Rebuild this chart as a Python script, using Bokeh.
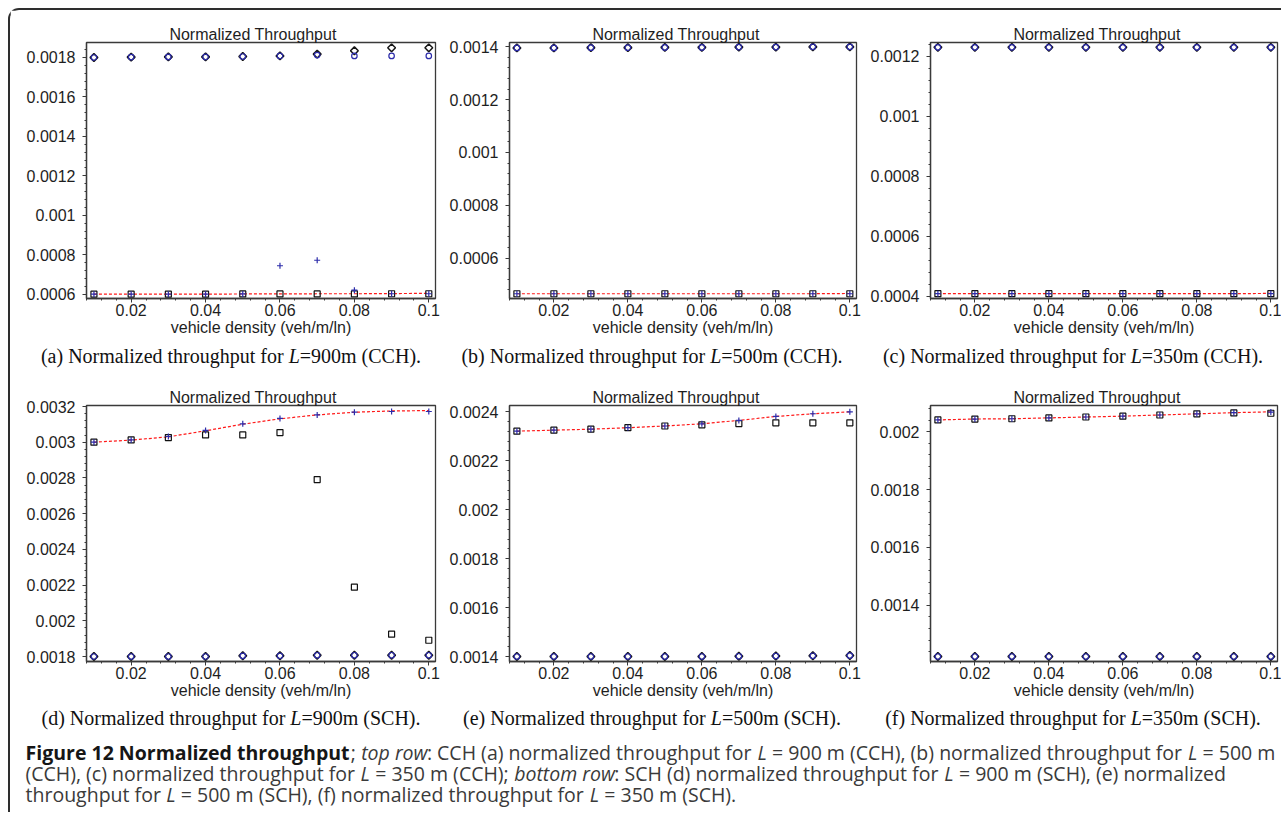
import numpy as np
from bokeh.plotting import figure
from bokeh.models import Range1d, FixedTicker, CustomJSTickFormatter
from bokeh.layouts import row, column
from bokeh.core.properties import value
from bokeh.embed import file_html
from bokeh.resources import INLINE

# ---------------- data ----------------
density = [0.01, 0.02, 0.03, 0.04, 0.05, 0.06, 0.07, 0.08, 0.09, 0.10]
x_ticks = [0.02, 0.04, 0.06, 0.08, 0.1]
x_tick_labels = ["0.02", "0.04", "0.06", "0.08", "0.1"]
x_range_lim = [0.0080, 0.1018]

# (a) L=900m CCH
a_range = [0.000578, 0.001876]
a_ticks = [0.0006, 0.0008, 0.0010, 0.0012, 0.0014, 0.0016, 0.0018]
a_labels = ["0.0006", "0.0008", "0.001", "0.0012", "0.0014", "0.0016", "0.0018"]
a_diamond = [0.001800, 0.001802, 0.001803, 0.001803, 0.001805, 0.001808, 0.001817, 0.001834, 0.001849, 0.001849]
a_circle = [0.001800, 0.001802, 0.001803, 0.001803, 0.001805, 0.001808, 0.001812, 0.001808, 0.001808, 0.001808]
a_plus = [0.000600, 0.000600, 0.000600, 0.000600, 0.000601, 0.000744, 0.000772, 0.000620, 0.000602, 0.000602]
a_square = [0.000600, 0.000600, 0.000600, 0.000600, 0.000601, 0.000601, 0.000601, 0.000601, 0.000602, 0.000602]
a_model = [0.000600, 0.000600, 0.000600, 0.000600, 0.000601, 0.000601, 0.000602, 0.000602, 0.000603, 0.000604]

# (b) L=500m CCH
b_range = [0.000447, 0.0014165]
b_ticks = [0.0006, 0.0008, 0.0010, 0.0012, 0.0014]
b_labels = ["0.0006", "0.0008", "0.001", "0.0012", "0.0014"]
b_diamond = [0.001396, 0.001396, 0.001397, 0.001397, 0.001398, 0.001398, 0.001399, 0.001399, 0.001400, 0.001400]
b_circle = [0.001396, 0.001396, 0.001397, 0.001397, 0.001398, 0.001398, 0.001399, 0.001399, 0.001400, 0.001400]
b_plus = [0.000465, 0.000465, 0.000465, 0.000465, 0.000465, 0.000465, 0.000465, 0.000465, 0.000465, 0.000465]
b_square = [0.000465, 0.000465, 0.000465, 0.000465, 0.000465, 0.000465, 0.000465, 0.000465, 0.000465, 0.000465]
b_model = [0.000465, 0.000465, 0.000465, 0.000465, 0.000465, 0.000465, 0.000465, 0.000465, 0.000465, 0.000466]

# (c) L=350m CCH
c_range = [0.000393, 0.001246]
c_ticks = [0.0004, 0.0006, 0.0008, 0.0010, 0.0012]
c_labels = ["0.0004", "0.0006", "0.0008", "0.001", "0.0012"]
c_diamond = [0.001230, 0.001230, 0.001230, 0.001230, 0.001230, 0.001230, 0.001230, 0.001230, 0.001230, 0.001230]
c_circle = [0.001230, 0.001230, 0.001230, 0.001230, 0.001230, 0.001230, 0.001230, 0.001230, 0.001230, 0.001230]
c_plus = [0.000409, 0.000409, 0.000409, 0.000409, 0.000409, 0.000409, 0.000409, 0.000409, 0.000409, 0.000409]
c_square = [0.000409, 0.000409, 0.000409, 0.000409, 0.000409, 0.000409, 0.000409, 0.000409, 0.000409, 0.000409]
c_model = [0.000409, 0.000409, 0.000409, 0.000409, 0.000409, 0.000409, 0.000409, 0.000409, 0.000409, 0.000410]

# (d) L=900m SCH
d_range = [0.001772, 0.0032056]
d_ticks = [0.0018, 0.0020, 0.0022, 0.0024, 0.0026, 0.0028, 0.0030, 0.0032]
d_labels = ["0.0018", "0.002", "0.0022", "0.0024", "0.0026", "0.0028", "0.003", "0.0032"]
d_diamond = [0.001800, 0.001800, 0.001800, 0.001800, 0.001804, 0.001804, 0.001807, 0.001807, 0.001807, 0.001807]
d_circle = [0.001800, 0.001800, 0.001800, 0.001800, 0.001804, 0.001804, 0.001807, 0.001807, 0.001807, 0.001807]
d_plus = [0.003000, 0.003013, 0.003032, 0.003066, 0.003103, 0.003133, 0.003153, 0.003168, 0.003172, 0.003172]
d_square = [0.003000, 0.003013, 0.003026, 0.003041, 0.003041, 0.003054, 0.002791, 0.002188, 0.001925, 0.001891]
d_model = [0.003000, 0.003012, 0.003030, 0.003064, 0.003101, 0.003131, 0.003153, 0.003168, 0.003175, 0.003177]

# (e) L=500m SCH
e_range = [0.0013796, 0.0024258]
e_ticks = [0.0014, 0.0016, 0.0018, 0.0020, 0.0022, 0.0024]
e_labels = ["0.0014", "0.0016", "0.0018", "0.002", "0.0022", "0.0024"]
e_diamond = [0.001400, 0.001400, 0.001400, 0.001400, 0.001400, 0.001400, 0.001401, 0.001402, 0.001403, 0.001404]
e_circle = [0.001400, 0.001400, 0.001400, 0.001400, 0.001400, 0.001400, 0.001401, 0.001402, 0.001403, 0.001404]
e_plus = [0.002321, 0.002325, 0.002329, 0.002335, 0.002342, 0.002351, 0.002365, 0.002381, 0.002392, 0.002400]
e_square = [0.002321, 0.002325, 0.002329, 0.002335, 0.002342, 0.002347, 0.002352, 0.002355, 0.002355, 0.002355]
e_model = [0.002321, 0.002325, 0.002329, 0.002335, 0.002342, 0.002351, 0.002365, 0.002381, 0.002392, 0.002400]

# (f) L=350m SCH
f_range = [0.0012057, 0.0020908]
f_ticks = [0.0014, 0.0016, 0.0018, 0.0020]
f_labels = ["0.0014", "0.0016", "0.0018", "0.002"]
f_diamond = [0.001223, 0.001223, 0.001223, 0.001223, 0.001223, 0.001223, 0.001223, 0.001223, 0.001223, 0.001223]
f_circle = [0.001223, 0.001223, 0.001223, 0.001223, 0.001223, 0.001223, 0.001223, 0.001223, 0.001223, 0.001223]
f_plus = [0.002041, 0.002044, 0.002045, 0.002048, 0.002051, 0.002054, 0.002058, 0.002062, 0.002066, 0.002068]
f_square = [0.002041, 0.002044, 0.002045, 0.002048, 0.002051, 0.002054, 0.002058, 0.002062, 0.002065, 0.002064]
f_model = [0.002041, 0.002044, 0.002045, 0.002048, 0.002051, 0.002054, 0.002058, 0.002062, 0.002066, 0.002069]

panel_title = "Normalized Throughput"
x_label = "vehicle density (veh/m/ln)"
sub_captions = [
    ("(a) Normalized throughput for ", "=900m (CCH)."),
    ("(b) Normalized throughput for ", "=500m (CCH)."),
    ("(c) Normalized throughput for ", "=350m (CCH)."),
    ("(d) Normalized throughput for ", "=900m (SCH)."),
    ("(e) Normalized throughput for ", "=500m (SCH)."),
    ("(f) Normalized throughput for ", "=350m (SCH)."),
]
fig_caption = [
    [("Figure 12 Normalized throughput", "b"), ("; ", "n"), ("top row", "i"),
     (": CCH (a) normalized throughput for ", "n"), ("L", "i"),
     (" = 900 m (CCH), (b) normalized throughput for ", "n"), ("L", "i"), (" = 500 m", "n")],
    [("(CCH), (c) normalized throughput for ", "n"), ("L", "i"), (" = 350 m (CCH); ", "n"),
     ("bottom row", "i"), (": SCH (d) normalized throughput for ", "n"), ("L", "i"),
     (" = 900 m (SCH), (e) normalized", "n")],
    [("throughput for ", "n"), ("L", "i"), (" = 500 m (SCH), (f) normalized throughput for ", "n"),
     ("L", "i"), (" = 350 m (SCH).", "n")],
]

# ---------------- styling / layout ----------------
AX = "#3a3a3a"
BLUE = "#2c2caa"
SANS = "Liberation Sans"
SERIF = "Liberation Serif"
CAPF = "Open Sans"
FRAME_W, FRAME_H, BOTTOM = 349, 256, 46

ARIAL = {'N': 722, 'o': 556, 'r': 333, 'm': 833, 'a': 556, 'l': 222, 'i': 222, 'z': 500, 'e': 556,
         'd': 556, ' ': 278, 'T': 611, 'h': 556, 'u': 556, 'g': 556, 'p': 556, 't': 278}
TIMES = {' ': 250, '(': 333, ')': 333, '.': 250, '=': 564, 'a': 444, 'b': 500, 'c': 444, 'd': 500,
         'e': 444, 'f': 333, 'g': 500, 'h': 500, 'i': 278, 'l': 278, 'm': 778, 'n': 500, 'o': 500,
         'p': 500, 'r': 333, 's': 389, 't': 278, 'u': 500, 'z': 444, 'N': 722, 'C': 667, 'H': 722,
         'S': 556, 'L': 556}
for dgt in "0123456789":
    TIMES[dgt] = 500
OS_N = {' ': 532, ',': 497, '.': 545, ':': 545, ';': 545, '(': 608, ')': 608, '=': 1171, 'a': 1139,
        'b': 1255, 'c': 975, 'd': 1255, 'e': 1149, 'f': 694, 'g': 1122, 'h': 1257, 'i': 518,
        'l': 518, 'm': 1905, 'n': 1257, 'o': 1237, 'p': 1255, 'r': 836, 's': 977, 't': 723,
        'u': 1257, 'w': 1610, 'z': 979, 'C': 1292, 'H': 1511, 'S': 1124, 'L': 1073}
OS_B = {' ': 540, 'F': 1160, 'i': 613, 'g': 1172, 'u': 1335, 'r': 946, 'e': 1204, 'N': 1734,
        'o': 1274, 'm': 2000, 'a': 1218, 'l': 613, 'z': 1019, 'd': 1320, 't': 851, 'h': 1335, 'p': 1320}
OS_I = {' ': 516, 'b': 1155, 'm': 1800, 'o': 1130, 'p': 1155, 'r': 805, 't': 670, 'w': 1490, 'L': 1000}
for dgt in "0123456789":
    OS_N[dgt] = 1171
    OS_B[dgt] = 1188


def em(txt, table, unit):
    return sum(table.get(ch, 0.55 * unit) for ch in txt) / unit


def make_ticker(ticks, lo, hi):
    step = ticks[1] - ticks[0]
    sub = step / 5.0
    k0 = int(np.floor((lo - ticks[0]) / sub)) - 1
    k1 = int(np.ceil((hi - ticks[0]) / sub)) + 1
    minor = [ticks[0] + k * sub for k in range(k0, k1 + 1) if lo <= ticks[0] + k * sub <= hi]
    return FixedTicker(ticks=ticks, minor_ticks=minor)


def make_formatter(ticks, labels):
    return CustomJSTickFormatter(args=dict(t=ticks, l=labels), code="""
        for (let i = 0; i < t.length; i++) { if (Math.abs(t[i] - tick) < 1e-9) return l[i]; }
        return '';""")


def panel(yr, yt, yl, sq, pl, ci, di, mo, left, right, top):
    p = figure(width=left + FRAME_W + right, height=top + FRAME_H + BOTTOM,
               x_range=Range1d(x_range_lim[0], x_range_lim[1]), y_range=Range1d(yr[0], yr[1]),
               output_backend="svg", toolbar_location=None,
               min_border_left=left, min_border_right=right, min_border_top=top,
               min_border_bottom=BOTTOM)
    p.background_fill_color = "white"
    p.border_fill_color = "white"
    p.outline_line_color = AX
    p.outline_line_width = 1.3
    p.xgrid.visible = False
    p.ygrid.visible = False
    tw = em(panel_title, ARIAL, 1000) * 16
    p.title.text = panel_title
    p.title.align = "left"
    p.title.offset = FRAME_W / 2 - 8 - tw / 2
    p.title.standoff = 0
    p.title.text_font = SANS
    p.title.text_font_size = "16px"
    p.title.text_font_style = "normal"
    p.title.text_color = "#1e1e1e"
    p.xaxis.ticker = make_ticker(x_ticks, x_range_lim[0], x_range_lim[1])
    p.xaxis.formatter = make_formatter(x_ticks, x_tick_labels)
    p.yaxis.ticker = make_ticker(yt, yr[0], yr[1])
    p.yaxis.formatter = make_formatter(yt, yl)
    for ax in (p.xaxis[0], p.yaxis[0]):
        ax.axis_line_color = AX
        ax.axis_line_width = 1.3
        ax.major_tick_line_color = AX
        ax.minor_tick_line_color = AX
        ax.major_tick_out = 4
        ax.major_tick_in = 0
        ax.minor_tick_out = 2
        ax.minor_tick_in = 0
        ax.major_label_text_font = SANS
        ax.major_label_text_font_size = "16px"
        ax.major_label_text_color = "#1e1e1e"
    p.yaxis.major_label_standoff = 7
    p.xaxis.major_label_standoff = 1
    p.xaxis.axis_label = x_label
    p.xaxis.axis_label_standoff = 0
    p.xaxis.axis_label_text_font = SANS
    p.xaxis.axis_label_text_font_size = "16px"
    p.xaxis.axis_label_text_font_style = "normal"
    p.xaxis.axis_label_text_color = "#1e1e1e"

    p.line(density, mo, line_color="#ff1a1a", line_width=1.2, line_dash="3 2")
    p.scatter(density, sq, marker="square", size=6, line_color="#111111", fill_color=None, line_width=1.2)
    p.scatter(density, pl, marker="cross", size=6, line_color=BLUE, line_width=1.2)
    p.scatter(density, di, marker="square", angle=0.785398, size=5.5, line_color="#151515",
              fill_color=None, line_width=1.5)
    p.scatter(density, ci, marker="circle", size=5.5, line_color=BLUE, fill_color=None, line_width=1.2)
    return p


LA, RA, LB, RB, LC, RC = 76, 11, 61, 11, 61, 4
pa = panel(a_range, a_ticks, a_labels, a_square, a_plus, a_circle, a_diamond, a_model, LA, RA, 32)
pb = panel(b_range, b_ticks, b_labels, b_square, b_plus, b_circle, b_diamond, b_model, LB, RB, 32)
pc = panel(c_range, c_ticks, c_labels, c_square, c_plus, c_circle, c_diamond, c_model, LC, RC, 32)
pd = panel(d_range, d_ticks, d_labels, d_square, d_plus, d_circle, d_diamond, d_model, LA, RA, 30)
pe = panel(e_range, e_ticks, e_labels, e_square, e_plus, e_circle, e_diamond, e_model, LB, RB, 30)
pf = panel(f_range, f_ticks, f_labels, f_square, f_plus, f_circle, f_diamond, f_model, LC, RC, 30)

WA = LA + FRAME_W + RA
WB = LB + FRAME_W + RB
WC = LC + FRAME_W + RC
TOTAL_W = WA + WB + WC
frame_centers = [LA + FRAME_W / 2, WA + LB + FRAME_W / 2, WA + WB + LC + FRAME_W / 2]


def text_fig(h):
    c = figure(width=TOTAL_W, height=h, x_range=Range1d(0, TOTAL_W), y_range=Range1d(h, 0),
               output_backend="svg", toolbar_location=None,
               x_axis_location=None, y_axis_location=None, min_border=0)
    c.title = None
    c.grid.visible = False
    c.outline_line_color = None
    c.background_fill_color = "white"
    c.border_fill_color = "white"
    return c


def draw_subcaptions(c, idxs, y):
    size = 20
    for col, k in enumerate(idxs):
        pre, post = sub_captions[k]
        w_pre = em(pre, TIMES, 1000) * size
        w_L = TIMES['L'] / 1000 * size
        w_post = em(post, TIMES, 1000) * size
        x0 = frame_centers[col] - 30 - (w_pre + w_L + w_post) / 2
        kw = dict(text_font=value(SERIF), text_font_size="20px", text_baseline="middle",
                  text_align="left", text_color="#111111")
        c.text(x=[x0], y=[y], text=[pre.rstrip()], text_font_style="normal", **kw)
        c.text(x=[x0 + w_pre], y=[y], text=["L"], text_font_style="italic", **kw)
        c.text(x=[x0 + w_pre + w_L], y=[y], text=[post], text_font_style="normal", **kw)


def seg_em(txt, st):
    tab = {"n": OS_N, "b": OS_B, "i": OS_I}[st]
    return sum(tab.get(ch, OS_N.get(ch, 1130)) for ch in txt) / 2048.0


cap1 = text_fig(31)
draw_subcaptions(cap1, [0, 1, 2], 11)

cap2 = text_fig(105)
draw_subcaptions(cap2, [3, 4, 5], 10)

line1_em = sum(seg_em(t, s) for t, s in fig_caption[0])
cap_size = (TOTAL_W - 6 - 15) / line1_em
for li, segs in enumerate(fig_caption):
    y = 45 + 21 * li
    x = 15.0
    for txt, st in segs:
        lead = len(txt) - len(txt.lstrip(' '))
        x_draw = x + seg_em(' ' * lead, st) * cap_size
        s = txt.strip(' ')
        style = {"n": "normal", "b": "bold", "i": "italic"}[st]
        color = "#161616" if st == "b" else "#3a3a3a"
        if s:
            cap2.text(x=[x_draw], y=[y], text=[s], text_font=value(CAPF),
                      text_font_size="%.2fpx" % cap_size, text_font_style=style,
                      text_baseline="middle", text_align="left", text_color=color)
        x += seg_em(txt, st) * cap_size

root = column(row(pa, pb, pc), cap1, row(pd, pe, pf), cap2,
              styles={"margin-left": "8px", "margin-top": "8px",
                      "border-top": "2px solid #2e2e2e", "border-left": "2px solid #2e2e2e",
                      "border-top-left-radius": "11px"})

open("out.html", "w").write(file_html(root, INLINE))
